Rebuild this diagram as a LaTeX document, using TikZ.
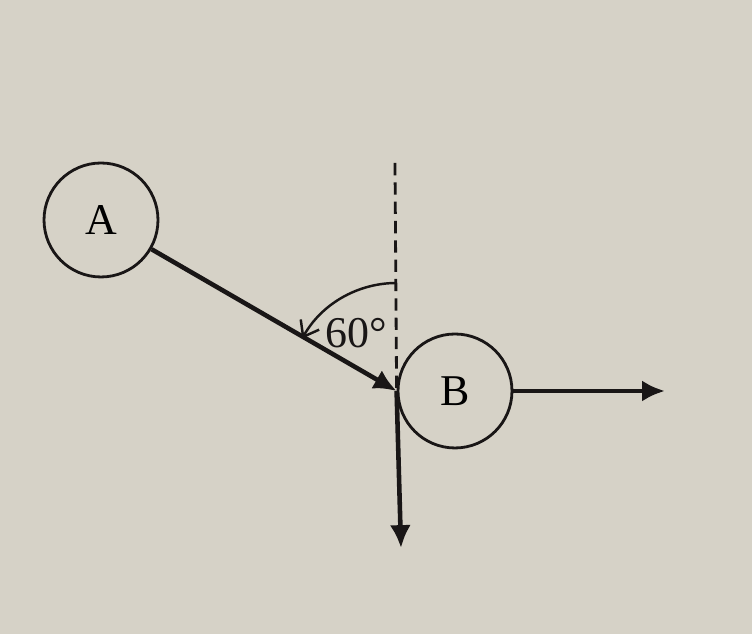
\documentclass[tikz,border=0pt]{standalone}
\usepackage{fontspec}
\setmainfont{Liberation Serif}
\usetikzlibrary{arrows.meta}

\definecolor{paper}{RGB}{214,210,199}
\definecolor{ink}{RGB}{25,22,22}

\tikzset{
  ball/.style={circle, draw=ink, line width=1.6pt, minimum size=2.28cm, inner sep=0pt,
    font=\fontsize{25}{28}\selectfont},
  force/.style={draw=ink, line width=2.6pt, -{Latex[length=13pt,width=12pt]}},
  guide/.style={draw=ink, line width=1.6pt, dash pattern=on 7pt off 4pt}
}

\begin{document}
\begin{tikzpicture}[x=0.02cm,y=0.02cm]
  \fill[paper] (0,0) rectangle (752,634);
  \useasboundingbox (0,0) rectangle (752,634);

  \node[ball] (A) at (101,414) {A};
  \node[ball] (B) at (455,243) {B};

  \coordinate (top) at (395,471);
  \coordinate (down) at (401,86);
  \coordinate (right) at (665,243);

  % vertical reference line
  \draw[guide] (top) -- (B.west);

  \draw[force] (A) -- (B.west);
  \draw[force] (B.west) -- (down);
  \draw[force] (B) -- (right);

  % angle
  \draw[draw=ink, line width=1.4pt, -{Straight Barb[length=8pt,width=12pt]}]
    ([shift={(90:108)}]B.west) arc[start angle=90, end angle=151, radius=108];
  \node[font=\fontsize{25}{28}\selectfont, text=ink] (ang) at (356,301) {60°};
\end{tikzpicture}
\end{document}
